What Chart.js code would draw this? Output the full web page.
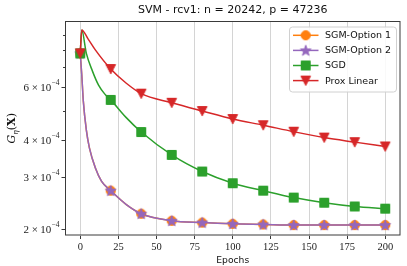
<!DOCTYPE html>
<html>
<head>
<meta charset="utf-8">
<script src="https://cdn.jsdelivr.net/npm/chart.js@4"></script>
<style>
  html, body { margin: 0; padding: 0; background: #fff; }
</style>
</head>
<body>
<canvas id="myChart" width="407" height="266"></canvas>
<script>
// values (objective, log scale) at the listed epochs
const sgmEpochs = [0, 1, 2, 4, 6, 10, 14, 20, 30, 40, 60, 80, 100, 120, 140, 160, 180, 200]
const sgmOption1 = [7.8e-4, 6.6e-4, 5.4e-4, 4.3e-4, 3.75e-4, 3.2e-4, 2.89e-4, 2.69e-4, 2.42e-4, 2.25e-4, 2.13e-4, 2.10e-4, 2.08e-4, 2.07e-4, 2.06e-4, 2.06e-4, 2.06e-4, 2.06e-4]
const sgmOption2 = [7.8e-4, 6.6e-4, 5.4e-4, 4.3e-4, 3.75e-4, 3.2e-4, 2.89e-4, 2.69e-4, 2.42e-4, 2.25e-4, 2.13e-4, 2.10e-4, 2.08e-4, 2.07e-4, 2.06e-4, 2.06e-4, 2.06e-4, 2.06e-4]
const sgdEpochs = [0, 1, 4, 8, 12, 16, 20, 30, 40, 60, 80, 100, 120, 140, 160, 180, 200]
const sgdValues = [7.8e-4, 9.35e-4, 7.8e-4, 6.8e-4, 6.1e-4, 5.7e-4, 5.44e-4, 4.75e-4, 4.24e-4, 3.55e-4, 3.12e-4, 2.85e-4, 2.69e-4, 2.55e-4, 2.45e-4, 2.38e-4, 2.34e-4]
const proxEpochs = [0, 1, 5, 10, 20, 30, 40, 60, 80, 100, 120, 140, 160, 180, 200]
const proxValues = [7.8e-4, 9.35e-4, 8.75e-4, 8.0e-4, 6.91e-4, 6.2e-4, 5.71e-4, 5.32e-4, 4.99e-4, 4.69e-4, 4.47e-4, 4.25e-4, 4.06e-4, 3.92e-4, 3.79e-4]

const markEvery = 20
const xTicks = [0, 25, 50, 75, 100, 125, 150, 175, 200]
const yTicks = [2e-4, 3e-4, 4e-4, 5e-4, 6e-4, 7e-4, 8e-4, 9e-4]
const yLabelTicks = [2e-4, 3e-4, 4e-4, 6e-4]
const titleText = 'SVM - rcv1: n = 20242, p = 47236'
const xTitle = 'Epochs'

// little canvases used as point styles (matplotlib-like markers)
function makeMarker(shape, color) {
  const c = document.createElement('canvas')
  c.width = 14; c.height = 14
  const g = c.getContext('2d')
  g.fillStyle = color; g.strokeStyle = color; g.lineWidth = 1
  g.beginPath()
  if (shape === 'circle') g.arc(7, 7, 4.6, 0, Math.PI * 2)
  else if (shape === 'square') g.rect(2.5, 2.5, 9, 9)
  else if (shape === 'tri') { g.moveTo(2.2, 2.5); g.lineTo(11.8, 2.5); g.lineTo(7, 11.8); g.closePath() }
  else if (shape === 'star') {
    for (let i = 0; i < 10; i++) {
      const r = i % 2 ? 2.3 : 5.6
      const a = -Math.PI / 2 + i * Math.PI / 5
      const px = 7 + r * Math.cos(a), py = 7.4 + r * Math.sin(a)
      i ? g.lineTo(px, py) : g.moveTo(px, py)
    }
    g.closePath()
  }
  g.fill(); g.stroke()
  return c
}

const series = [
  { label: 'SGM-Option 1', xs: sgmEpochs, ys: sgmOption1, color: '#ff7f0e', marker: makeMarker('circle', '#ff7f0e'), order: 3 },
  { label: 'SGM-Option 2', xs: sgmEpochs, ys: sgmOption2, color: '#9467bd', marker: makeMarker('star', '#9467bd'), order: 2 },
  { label: 'SGD', xs: sgdEpochs, ys: sgdValues, color: '#2ca02c', marker: makeMarker('square', '#2ca02c'), order: 1 },
  { label: 'Prox Linear', xs: proxEpochs, ys: proxValues, color: '#d62728', marker: makeMarker('tri', '#d62728'), order: 0 }
]

const datasets = series.map(s => ({
  label: s.label,
  data: s.xs.map((x, i) => ({ x: x, y: s.ys[i] })),
  borderColor: s.color,
  backgroundColor: s.color,
  borderWidth: 1.5,
  cubicInterpolationMode: 'monotone',
  pointStyle: s.marker,
  pointRadius: c => (c.raw && c.raw.x % markEvery === 0 ? 5 : 0),
  order: s.order
}))

// frame, y ticks with exponent labels, titles and the in-plot legend
const decorPlugin = {
  id: 'decor',
  afterDraw(chart) {
    const { ctx, chartArea: a, scales: { y } } = chart
    ctx.save()
    ctx.strokeStyle = '#3a3a3a'
    ctx.lineWidth = 1
    ctx.strokeRect(a.left + 0.5, a.top + 0.5, a.right - a.left - 1, a.bottom - a.top - 1)

    // y ticks
    yTicks.forEach(v => {
      const py = Math.round(y.getPixelForValue(v)) + 0.5
      const major = yLabelTicks.includes(v)
      ctx.beginPath()
      ctx.moveTo(a.left - (major ? 3.5 : 2), py)
      ctx.lineTo(a.left, py)
      ctx.stroke()
      if (!major) return
      const mant = String(Math.round(v * 1e4))
      ctx.fillStyle = '#222'
      ctx.textBaseline = 'middle'
      ctx.textAlign = 'left'
      ctx.font = '7.5px "Liberation Serif"'
      const expW = ctx.measureText('\u22124').width
      let xr = a.left - 5.5 - expW
      ctx.fillText('\u22124', xr, py - 4)
      ctx.font = '11px "Liberation Serif"'
      ctx.textAlign = 'right'
      ctx.fillText('10', xr - 0.3, py + 0.5)
      xr -= ctx.measureText('10').width + 2.6
      ctx.fillText('\u00d7', xr, py + 0.5)
      xr -= ctx.measureText('\u00d7').width + 2.6
      ctx.fillText(mant, xr, py + 0.5)
    })

    // title
    const cx = (a.left + a.right) / 2
    ctx.fillStyle = '#111'
    ctx.textAlign = 'center'
    ctx.textBaseline = 'middle'
    ctx.font = '11px "DejaVu Sans"'
    ctx.fillText(titleText, cx, 10.5)
    ctx.font = '9.2px "DejaVu Sans"'
    ctx.fillText(xTitle, cx, 260.5)

    // y title  G_eta(X)
    ctx.save()
    ctx.translate(11, (a.top + a.bottom) / 2)
    ctx.rotate(-Math.PI / 2)
    ctx.textAlign = 'left'
    ctx.textBaseline = 'alphabetic'
    const parts = [
      ['italic 11px "DejaVu Serif"', 'G', 0],
      ['italic 7.5px "DejaVu Serif"', '\u03b7', 2.5],
      ['11px "DejaVu Serif"', '(', 0],
      ['bold 11px "DejaVu Serif"', 'X', 0],
      ['11px "DejaVu Serif"', ')', 0]
    ]
    let tw = 0
    parts.forEach(p => { ctx.font = p[0]; tw += ctx.measureText(p[1]).width })
    let tx = -tw / 2
    parts.forEach(p => { ctx.font = p[0]; ctx.fillText(p[1], tx, 4 + p[2]); tx += ctx.measureText(p[1]).width })
    ctx.restore()

    // legend
    const bx = 289.5, by = 27, bw = 107, bh = 65
    ctx.beginPath()
    ctx.roundRect(bx, by, bw, bh, 3)
    ctx.fillStyle = 'rgba(255,255,255,0.85)'
    ctx.fill()
    ctx.strokeStyle = '#d0d0d0'
    ctx.stroke()
    ctx.font = '9.5px "DejaVu Sans"'
    ctx.textAlign = 'left'
    ctx.textBaseline = 'middle'
    series.forEach((s, i) => {
      const ry = 35.3 + i * 15.1
      ctx.strokeStyle = s.color
      ctx.lineWidth = 1.5
      ctx.beginPath()
      ctx.moveTo(293, ry)
      ctx.lineTo(318.5, ry)
      ctx.stroke()
      ctx.drawImage(s.marker, 305.7 - 7, ry - 7)
      ctx.fillStyle = '#111'
      ctx.fillText(s.label, 325, ry + 0.5)
    })
    ctx.restore()
  }
}

const ctx = document.getElementById('myChart').getContext('2d')
const myChart = new Chart(ctx, {
  type: 'line',
  data: { datasets: datasets },
  options: {
    responsive: false,
    animation: false,
    devicePixelRatio: 1,
    layout: { padding: { top: 21, right: 5, left: 0, bottom: 0 } },
    plugins: { legend: { display: false }, title: { display: false }, tooltip: { enabled: false } },
    scales: {
      x: {
        type: 'linear', min: -10, max: 210,
        afterBuildTicks: s => { s.ticks = xTicks.map(v => ({ value: v })) },
        afterFit: s => { s.height = 30.5 },
        grid: { color: '#d4d4d4', lineWidth: 1, tickColor: '#3a3a3a', tickLength: 3.5 },
        border: { display: false },
        ticks: { font: { family: 'Liberation Serif', size: 10.5 }, color: '#222', padding: 2, maxRotation: 0, autoSkip: false }
      },
      y: {
        type: 'logarithmic', min: 1.9e-4, max: 1.003e-3,
        afterBuildTicks: s => { s.ticks = yTicks.map(v => ({ value: v })) },
        afterFit: s => { s.width = 65 },
        grid: { display: false },
        border: { display: false },
        ticks: { display: false }
      }
    }
  },
  plugins: [decorPlugin]
})
</script>
</body>
</html>
